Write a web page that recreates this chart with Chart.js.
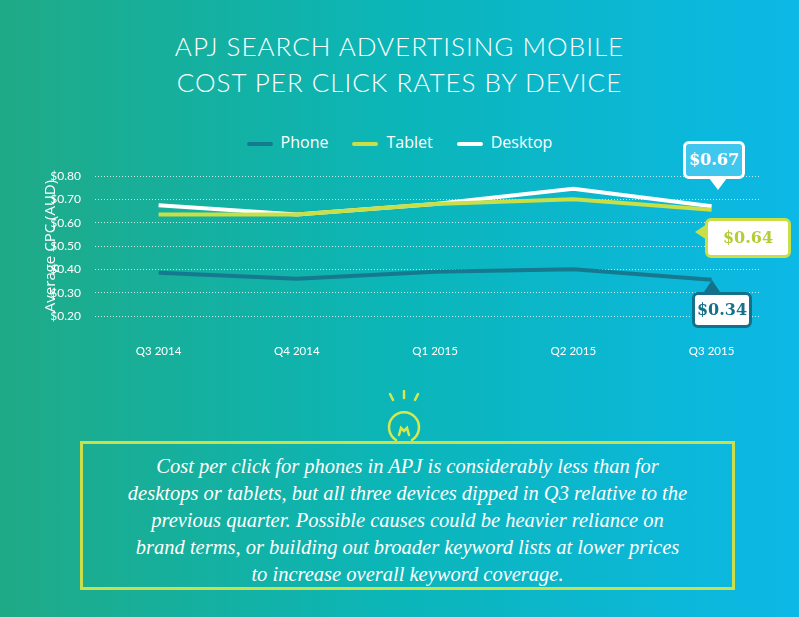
<!DOCTYPE html>
<html><head><meta charset="utf-8">
<script src="https://cdn.jsdelivr.net/npm/chart.js@4"></script>
<style>
body{margin:0;width:799px;height:617px;overflow:hidden;background:linear-gradient(90deg,#1faa86 0%,#0bb6b9 50%,#0cb8e6 100%);font-family:"Open Sans",sans-serif;position:relative}
#title{position:absolute;top:28px;left:0;width:799px;text-align:center;color:#fff;font-family:Lato,sans-serif;font-weight:300;font-size:26px;line-height:36px;letter-spacing:1px}
#wrap{position:absolute;left:0;top:140px;width:799px;height:220px}
#legend{position:absolute;top:131px;left:0;width:799px;text-align:center;color:#fff;font-size:16px}
#legend span{margin:0 12px}
#legend i{display:inline-block;width:26px;height:4px;border-radius:2px;vertical-align:middle;margin-right:8px}
.call{position:absolute;border-radius:6px;font-family:"DejaVu Serif",serif;font-weight:bold;font-size:16px;text-align:center;box-sizing:border-box}
.tail{position:absolute;width:0;height:0}
#box{position:absolute;left:80px;top:441px;width:655px;height:149px;border:3px solid #c9e04c;box-sizing:border-box;color:#fff;font-family:"Liberation Serif",serif;font-style:italic;font-size:20.5px;line-height:27px;text-align:center;padding-top:9px}
</style></head><body>
<div id="title">APJ SEARCH ADVERTISING MOBILE<br>COST PER CLICK RATES BY DEVICE</div>
<div id="legend"><span><i style="background:#157a8f"></i>Phone</span><span><i style="background:#c9df45"></i>Tablet</span><span><i style="background:#fff"></i>Desktop</span></div>
<div id="wrap"><canvas id="c"></canvas></div>
<div class="call" style="left:683px;top:141px;width:62px;height:38px;background:#40c7ee;border:3px solid #fff;color:#fff;line-height:32px">$0.67</div>
<div class="tail" style="left:709px;top:178px;border-left:9px solid transparent;border-right:9px solid transparent;border-top:12px solid #fff"></div>
<div class="call" style="left:705px;top:218px;width:86px;height:40px;background:#fff;border:3px solid #c9df45;color:#b5cc36;line-height:34px">$0.64</div>
<div class="tail" style="left:695px;top:224px;border-top:8px solid transparent;border-bottom:8px solid transparent;border-right:12px solid #c9df45"></div>
<div class="call" style="left:692px;top:292px;width:60px;height:36px;background:#fff;border:3px solid #14718a;color:#14718a;line-height:30px">$0.34</div>
<div class="tail" style="left:704px;top:280px;border-left:8px solid transparent;border-right:8px solid transparent;border-bottom:12px solid #14718a"></div>
<svg style="position:absolute;left:381px;top:390px" width="46" height="54" viewBox="0 0 46 54" fill="none" stroke="#d6e84e" stroke-width="2.5" stroke-linecap="round">
<line x1="9" y1="4" x2="12" y2="10"/><line x1="23" y1="1" x2="23" y2="8"/><line x1="37" y1="4" x2="34" y2="10"/>
<path d="M15 50 A15 15 0 1 1 31 50"/><path d="M18 45 l2-7 3 3 3-3 2 7"/></svg>
<div id="box">Cost per click for phones in APJ is considerably less than for<br>desktops or tablets, but all three devices dipped in Q3 relative to the<br>previous quarter. Possible causes could be heavier reliance on<br>brand terms, or building out broader keyword lists at lower prices<br>to increase overall keyword coverage.</div>
<script>
const quarters = ["Q3 2014","Q4 2014","Q1 2015","Q2 2015","Q3 2015"];
const phone = [0.385,0.36,0.39,0.40,0.355];
const tablet = [0.635,0.635,0.68,0.70,0.655];
const desktop = [0.675,0.635,0.68,0.745,0.67];
const yTicks = [0.2,0.3,0.4,0.5,0.6,0.7,0.8];
const pts = a => a.map((v,i) => ({x:i,y:v}));
const ds = (label,data,color) => ({label,data:pts(data),borderColor:color,borderWidth:4,pointRadius:0,tension:0});
new Chart(document.getElementById('c'), {
  type:'line',
  data:{datasets:[ds('Phone',phone,'#157a8f'),ds('Tablet',tablet,'#c9df45'),ds('Desktop',desktop,'#ffffff')]},
  options:{
    responsive:true,maintainAspectRatio:false,animation:false,
    layout:{padding:{left:0,right:39,top:36,bottom:0}},
    plugins:{legend:{display:false},tooltip:{enabled:false}},
    scales:{
      x:{type:'linear',min:-0.46,max:4.35,grid:{display:false},border:{display:false},
        afterBuildTicks:s=>{s.ticks=quarters.map((q,i)=>({value:i}));},
        ticks:{color:'#fff',font:{size:11.5,family:'Lato'},padding:20,maxRotation:0,callback:v=>quarters[v]},
        afterFit:s=>{s.height=44;}},
      y:{min:0.2,max:0.8,border:{display:false,dash:[1,2]},
        afterBuildTicks:s=>{s.ticks=yTicks.map(v=>({value:v}));},
        grid:{color:'rgba(255,255,255,0.75)',lineWidth:1,drawTicks:false},
        ticks:{color:'#fff',font:{size:12,family:'Lato'},padding:14,callback:v=>'$'+v.toFixed(2)},
        title:{display:true,text:'Average CPC (AUD)',color:'#fff',font:{size:15,family:'Open Sans'},padding:{top:42,bottom:10}},
        afterFit:s=>{s.width=95;}}
    }
  }
});
</script></body></html>
